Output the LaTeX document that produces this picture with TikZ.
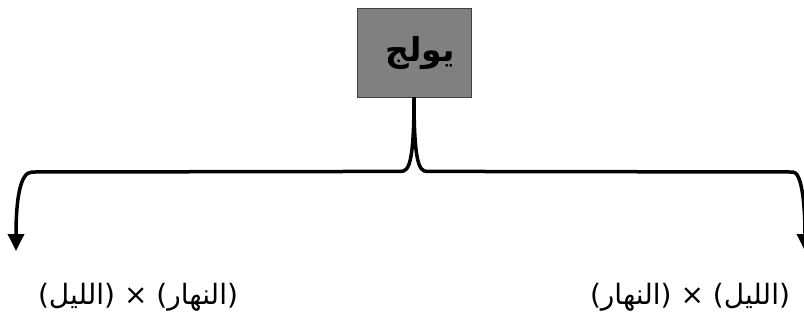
\documentclass[tikz,border=0pt]{standalone}
\usepackage{fontspec}
\usetikzlibrary{arrows.meta}
\TeXXeTstate=1
\newfontfamily\arabicfont[Script=Arabic]{DejaVu Sans}
\definecolor{boxgray}{RGB}{128,128,128}
\definecolor{boxedge}{RGB}{64,64,64}
\tikzset{
  headbox/.style={draw=boxedge, line width=0.8pt, fill=boxgray, minimum width=114pt, minimum height=89pt, inner sep=0pt, font=\arabicfont\bfseries\fontsize{33}{38}\selectfont},
  lbl/.style={inner sep=0pt, font=\arabicfont\fontsize{28}{32}\selectfont},
  brace/.style={line width=3.5pt, -{Triangle[width=16pt,length=17pt]}},
}
\begin{document}
\begin{tikzpicture}[x=1pt,y=-1pt]
\useasboundingbox (0,0) rectangle (804,325);
\node[headbox] (top) at (414,52.5) {\hspace{12pt}\beginR يولج\endR};
\coordinate (tipL) at (16,251);
\coordinate (tipR) at (805,251);
\node[lbl] (l) at (138,297) {\beginR (النهار) × (الليل)\endR};
\node[lbl] (r) at (690,297) {\beginR (الليل) × (النهار)\endR};
\draw[brace] (top.south) .. controls ([yshift=-65pt]top.south) and ([xshift=-5pt,yshift=-74pt]top.south) .. ([xshift=-13pt,yshift=-74pt]top.south)
  -- (32,172) .. controls (20,172) and (16,200) .. (tipL);
\draw[brace] (top.south) .. controls ([yshift=-65pt]top.south) and ([xshift=5pt,yshift=-74pt]top.south) .. ([xshift=13pt,yshift=-74pt]top.south)
  -- (793,172) .. controls (801,172) and (805,200) .. (tipR);
\end{tikzpicture}
\end{document}
